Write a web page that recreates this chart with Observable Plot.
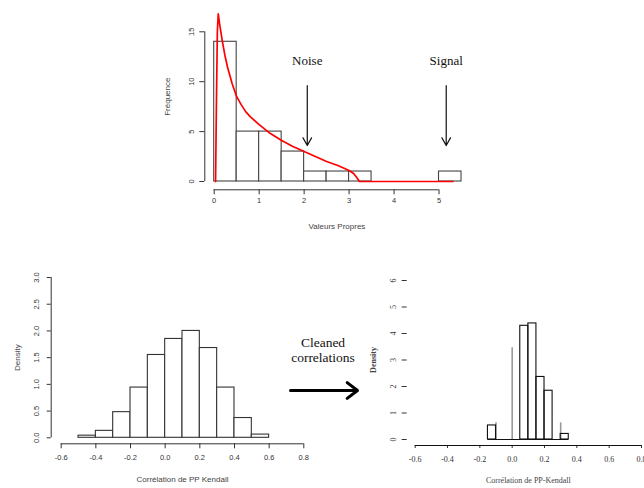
<!DOCTYPE html>
<html><head><meta charset="utf-8">
<script src="https://cdn.jsdelivr.net/npm/d3@7"></script>
<script src="https://cdn.jsdelivr.net/npm/@observablehq/plot@0.6"></script>
<style>
html,body{margin:0;padding:0;background:#fff;}
#root{position:relative;width:644px;height:488px;overflow:hidden;background:#fff;}
</style></head><body><div id="root"></div>
<script>
// ---------- Top: eigenvalue histogram ----------
const eigBinStart = [0, 0.5, 1, 1.5, 2, 2.5, 3, 5];
const eigBinEnd   = [0.5, 1, 1.5, 2, 2.5, 3, 3.5, 5.5];
const eigCounts   = [14, 5, 5, 3, 1, 1, 1, 1];
// Marchenko-Pastur style density curve
const mpX = [0.03, 0.05, 0.07, 0.09, 0.12, 0.18, 0.24, 0.3, 0.4, 0.5, 0.6, 0.7, 0.8, 0.9, 1.0, 1.25, 1.5, 1.75, 2.0, 2.25, 2.5, 2.75, 3.0, 3.1, 3.17, 3.23, 5.31];
const mpY = [0, 8, 15, 16.8, 15.8, 14.1, 12.6, 11.4, 9.8, 8.5, 7.7, 7.0, 6.5, 6.1, 5.7, 4.8, 4.1, 3.5, 3.0, 2.5, 2.0, 1.6, 1.1, 0.8, 0.4, 0, 0];
const annLabels = ["Noise", "Signal"];
const annX = [2.07, 5.16];
const annFrom = [9.6, 9.6];
const annTo = [3.6, 3.6];
const annTextY = [12.1, 12.1];
const topXTicks = [0, 1, 2, 3, 4, 5];
const topYTicks = [0, 5, 10, 15];

// ---------- Bottom left: raw Kendall correlations ----------
const rawBinStart = [-0.5, -0.4, -0.3, -0.2, -0.1, 0.0, 0.1, 0.2, 0.3, 0.4, 0.5];
const rawBinEnd   = [-0.4, -0.3, -0.2, -0.1, 0.0, 0.1, 0.2, 0.3, 0.4, 0.5, 0.6];
const rawDensity  = [0.04, 0.13, 0.48, 0.94, 1.55, 1.85, 2.0, 1.68, 0.94, 0.37, 0.06];
const blXTicks = [-0.6, -0.4, -0.2, 0.0, 0.2, 0.4, 0.6, 0.8];
const blYTicks = [0, 0.5, 1.0, 1.5, 2.0, 2.5, 3.0];

// ---------- Bottom right: cleaned correlations ----------
const clBinStart = [-0.15, 0.05, 0.10, 0.15, 0.20, 0.30];
const clBinEnd   = [-0.10, 0.10, 0.15, 0.20, 0.25, 0.35];
const clDensity  = [0.53, 4.29, 4.38, 2.36, 1.84, 0.21];
const clFaintX = [-0.1, 0.0, 0.3];
const clFaintH = [0.63, 3.46, 0.63];
const brXTicks = [-0.6, -0.4, -0.2, 0.0, 0.2, 0.4, 0.6, 0.8];
const brYTicks = [0, 1, 2, 3, 4, 5, 6];

const sans = "'Liberation Sans', Arial, Helvetica, sans-serif";
const serif = "'Liberation Serif', 'Times New Roman', serif";
const root = document.getElementById("root");
function place(el, left, top) {
  el.style.position = "absolute";
  el.style.left = left + "px";
  el.style.top = top + "px";
  root.appendChild(el);
}
const baseStyle = (font, size) => ({fontFamily: font, fontSize: size, color: "#333", background: "transparent", overflow: "visible"});

// Top plot
const eigBins = eigCounts.map((c, i) => ({x1: eigBinStart[i], x2: eigBinEnd[i], y: c}));
const mp = mpX.map((x, i) => ({x, y: mpY[i]}));
const ann = annLabels.map((t, i) => ({t, x: annX[i], from: annFrom[i], to: annTo[i], ty: annTextY[i]}));
const topPlot = Plot.plot({
  width: 320, height: 240,
  marginLeft: 44.3, marginRight: 19, marginTop: 31.3, marginBottom: 50.7,
  insetLeft: 9.4, insetBottom: 8.3,
  style: baseStyle(sans, "7.5px"),
  x: {domain: [0, 5.5], ticks: topXTicks, tickSize: 5, tickPadding: 3, tickFormat: d => String(d), label: null},
  y: {domain: [0, 15], ticks: topYTicks, tickSize: 5, tickPadding: 6, tickRotate: -90, tickFormat: d => String(d), label: null},
  marks: [
    Plot.ruleY([0], {x1: 0, x2: 5, dy: 8.3, stroke: "#333"}),
    Plot.ruleX([0], {y1: 0, y2: 15, dx: -9.4, stroke: "#333"}),
    Plot.rectY(eigBins, {x1: "x1", x2: "x2", y: "y", fill: "white", stroke: "#444", strokeWidth: 1.1}),
    Plot.line(mp, {x: "x", y: "y", stroke: "#f00", strokeWidth: 1.7}),
    Plot.arrow(ann, {x1: "x", x2: "x", y1: "from", y2: "to", stroke: "#111", strokeWidth: 1.2, headLength: 11, headAngle: 58}),
    Plot.text(ann, {x: "x", y: "ty", text: "t", fontFamily: serif, fontSize: 13, fill: "#111"}),
    Plot.text(["Fréquence"], {x: 0, y: 8.5, text: d => d, rotate: -90, dx: -46.4, fontSize: 8, fill: "#444"}),
    Plot.text(["Valeurs Propres"], {x: 2.73, y: 0, text: d => d, dy: 45, fontSize: 8, fill: "#444"})
  ]
});
place(topPlot, 160, 0);

// Bottom-left plot
const rawBins = rawDensity.map((d, i) => ({x1: rawBinStart[i], x2: rawBinEnd[i], y: d}));
const blPlot = Plot.plot({
  width: 320, height: 228,
  marginLeft: 50.7, marginRight: 16.7, marginTop: 17, marginBottom: 44.7,
  insetLeft: 10, insetBottom: 6,
  style: baseStyle(sans, "7.5px"),
  x: {domain: [-0.6, 0.8], ticks: blXTicks, tickSize: 5, tickPadding: 6, tickFormat: d => d.toFixed(1), label: null},
  y: {domain: [0, 3], ticks: blYTicks, tickSize: 4, tickPadding: 8, tickRotate: -90, tickFormat: d => d.toFixed(1), label: null},
  marks: [
    Plot.ruleY([0], {x1: -0.6, x2: 0.8, dy: 6, stroke: "#333"}),
    Plot.ruleX([-0.6], {y1: 0, y2: 3, dx: -10, stroke: "#333"}),
    Plot.rectY(rawBins, {x1: "x1", x2: "x2", y: "y", fill: "white", stroke: "#333", strokeWidth: 1.1}),
    Plot.text(["Density"], {x: -0.6, y: 1.5, text: d => d, rotate: -90, dx: -43.7, fontSize: 8, fill: "#444"}),
    Plot.text(["Corrélation de PP Kendall"], {x: 0.1, y: 0, text: d => d, dy: 41.7, fontSize: 8, fill: "#444"})
  ]
});
place(blPlot, 0, 260);

// Bottom-right plot
const clBins = clDensity.map((d, i) => ({x1: clBinStart[i], x2: clBinEnd[i], y: d}));
const clFaint = clFaintX.map((x, i) => ({x, h: clFaintH[i]}));
const brPlot = Plot.plot({
  width: 314, height: 228,
  marginLeft: 76.7, marginRight: 3, marginTop: 20, marginBottom: 43,
  insetLeft: 8, insetBottom: 6,
  style: baseStyle(serif, "8px"),
  x: {domain: [-0.6, 0.8], ticks: brXTicks, tickSize: 3, tickPadding: 8, tickFormat: d => d.toFixed(1), label: null},
  y: {domain: [0, 6], ticks: brYTicks, tickSize: 5, tickPadding: 6, tickRotate: -90, tickFormat: d => String(d), label: null},
  marks: [
    Plot.ruleY([0], {x1: -0.6, x2: 0.8, dy: 6, stroke: "#111", strokeWidth: 1.2}),
    Plot.ruleX(clFaint, {x: "x", y1: 0, y2: "h", stroke: "#9a9a9a", strokeWidth: 1.6}),
    Plot.rectY(clBins, {x1: "x1", x2: "x2", y: "y", fill: "none", stroke: "#111", strokeWidth: 1.1}),
    Plot.ruleY([0], {x1: -0.15, x2: 0.35, stroke: "#111", strokeWidth: 1.1}),
    Plot.text(["Density"], {x: -0.6, y: 3, text: d => d, rotate: -90, dx: -41.4, fontSize: 8, fontWeight: "bold", fill: "#444"}),
    Plot.text(["Corrélation de PP-Kendall"], {x: 0.1, y: 0, text: d => d, dy: 41, fontSize: 8, fill: "#444"})
  ]
});
place(brPlot, 330, 260);

// Middle annotation: "Cleaned correlations" and arrow
const midLabel = ["Cleaned\ncorrelations"];
const midArrow = [{x1: 0, x2: 1, y: 0}];
const midPlot = Plot.plot({
  width: 80, height: 70,
  marginLeft: 5, marginRight: 8, marginTop: 0, marginBottom: 10,
  style: baseStyle(serif, "13px"),
  x: {domain: [0, 1], axis: null},
  y: {domain: [0, 1], axis: null},
  marks: [
    Plot.text(midLabel, {frameAnchor: "top", text: d => d, dy: 6, dx: -1, fontFamily: serif, fontSize: 13.5, lineHeight: 1.1, fill: "#111"}),
    Plot.arrow(midArrow, {x1: "x1", x2: "x2", y1: "y", y2: "y", stroke: "#000", strokeWidth: 3, headLength: 6.5, headAngle: 75})
  ]
});
place(midPlot, 285, 330);
</script>
</body></html>
